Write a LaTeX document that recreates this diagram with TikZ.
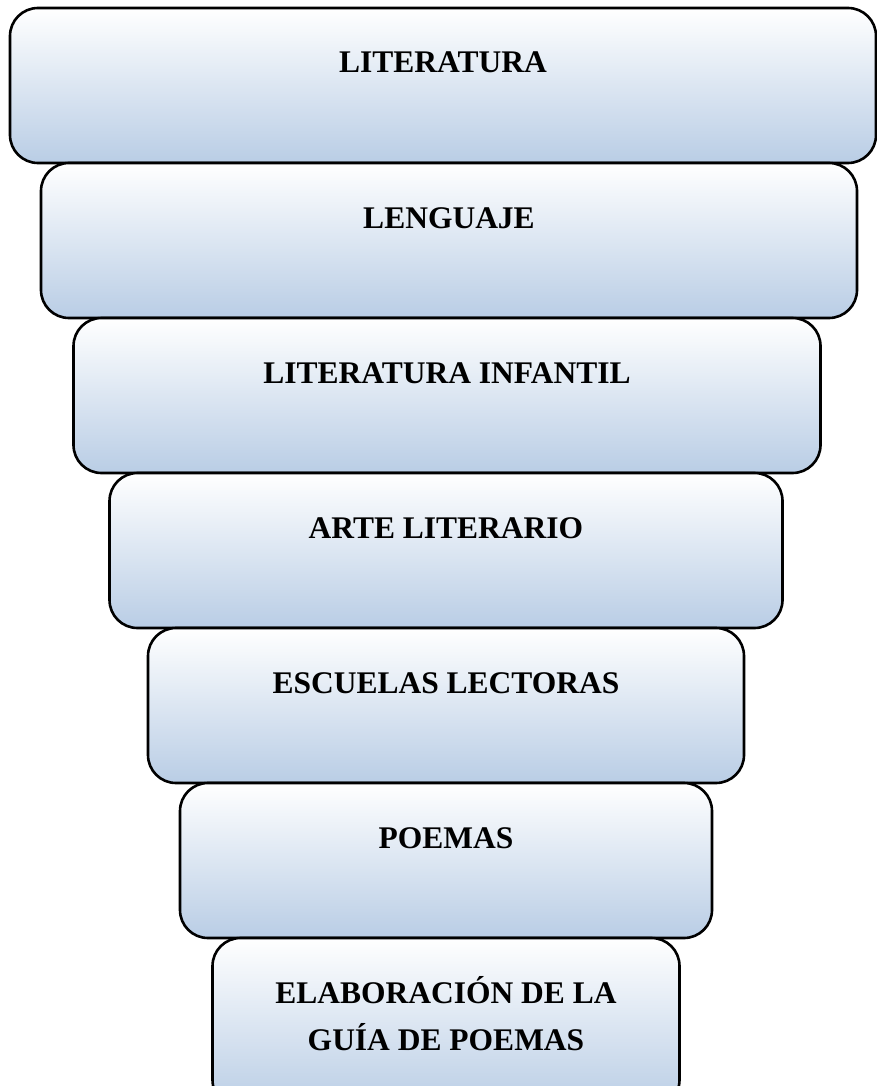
\documentclass[tikz,border=0pt]{standalone}
\usepackage{fontspec}
\setmainfont{Liberation Serif}
\usetikzlibrary{positioning}
\definecolor{tierblue}{RGB}{185,205,229}

\begin{document}
\begin{tikzpicture}[x=1pt,y=-1pt,
  tier/.style={draw=black, line width=2.6pt, rounded corners=28pt,
    top color=white, bottom color=tierblue, outer sep=0pt,
    font=\fontsize{31.5}{47}\selectfont\bfseries, align=center,
    inner xsep=0pt, inner ysep=0pt, text height=65pt, text depth=90pt}]
\useasboundingbox (0,0) rectangle (877,1086);
\clip (0,0) rectangle (877,1086);
\node [tier, minimum width=866pt, anchor=north] (lit) at (443,8) {LITERATURA};
\node [tier, minimum width=816pt, below=0pt of lit, xshift=6pt] (len) {LENGUAJE};
\node [tier, minimum width=747pt, below=0pt of len, xshift=-2pt] (inf) {LITERATURA INFANTIL};
\node [tier, minimum width=673pt, below=0pt of inf, xshift=-1pt] (arte) {ARTE LITERARIO};
\node [tier, minimum width=596pt, below=0pt of arte] (esc) {ESCUELAS LECTORAS};
\node [tier, minimum width=532pt, below=0pt of esc] (poe) {POEMAS};
% two lines: the base is the last line
\node [tier, minimum width=467pt, below=0pt of poe, text height=112pt, text depth=58pt] (guia) {ELABORACIÓN DE LA\\GUÍA DE POEMAS};
\end{tikzpicture}
\end{document}
